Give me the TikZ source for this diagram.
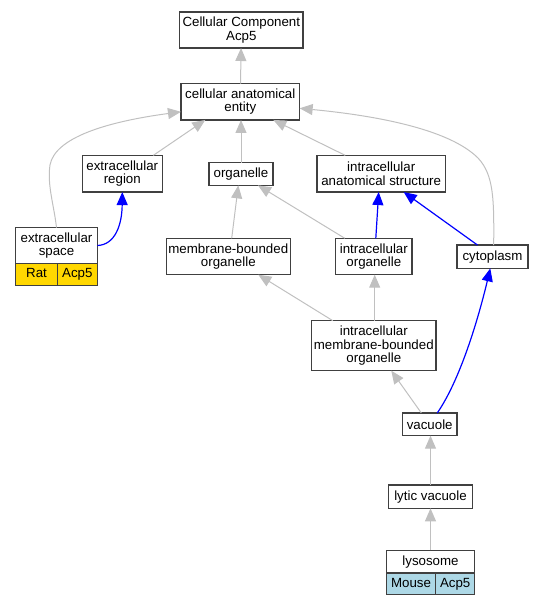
\documentclass[tikz,border=0pt]{standalone}
\usepackage{fontspec}
\setmainfont{Liberation Sans}
\usetikzlibrary{arrows.meta,positioning}

\definecolor{boxgray}{HTML}{404040}
\definecolor{isagray}{HTML}{C0C0C0}
\definecolor{partblue}{HTML}{0000FF}
\definecolor{ratgold}{HTML}{FFD700}
\definecolor{mouseblue}{HTML}{ADD8E6}

\begin{document}
\begin{tikzpicture}[x=1pt,y=-1pt,
    term/.style={draw=boxgray, line width=1.3pt, fill=white, inner sep=0pt,
        outer sep=0pt, align=center, font=\fontsize{13.3}{13.5}\selectfont},
    cell/.style={term, anchor=north west, text height=9.5pt, text depth=2.8pt},
    isa/.style={draw=isagray, line width=1pt, -{Triangle[length=13pt,width=11pt]}},
    partof/.style={draw=partblue, line width=1.2pt, -{Triangle[length=13pt,width=11pt]}}]

    % Fix the page size
    \useasboundingbox (0,0) rectangle (544,605);

    % Draw the terms
    \node[term, minimum width=123.3pt, minimum height=36pt] (cc) at (241.3,30) {Cellular Component\\Acp5};
    \node[term, minimum width=118.7pt, minimum height=36.3pt] (cae) at (240.3,101.8) {cellular anatomical\\entity};
    \node[term, minimum width=80pt, minimum height=36.7pt] (er) at (122.3,173.7) {extracellular\\region};
    \node[term, minimum width=64pt, minimum height=22.7pt] (org) at (241,174) {organelle};
    \node[term, minimum width=128.3pt, minimum height=36.7pt] (ias) at (381.2,173.7) {intracellular\\anatomical structure};
    \node[term, minimum width=81.6pt, minimum height=35.6pt] (es) at (56.5,245.5) {extracellular\\space};
    \node[term, minimum width=124pt, minimum height=36.4pt] (mbo) at (228.3,256.5) {membrane-bounded\\organelle};
    \node[term, minimum width=76.3pt, minimum height=36.4pt] (io) at (373.8,256.5) {intracellular\\organelle};
    \node[term, minimum width=71pt, minimum height=23.3pt] (cyt) at (492.5,256.7) {cytoplasm};
    \node[term, minimum width=124.3pt, minimum height=50pt] (imbo) at (373.8,345.7) {intracellular\\membrane-bounded\\organelle};
    \node[term, minimum width=54.7pt, minimum height=22.7pt] (vac) at (429.7,424.3) {vacuole};
    \node[term, minimum width=83.6pt, minimum height=23.3pt] (lyt) at (430.5,496.7) {lytic vacuole};
    \node[term, minimum width=88.4pt, minimum height=22.7pt] (lyso) at (430.5,561.7) {lysosome};

    % Species and gene cells
    \node[cell, fill=ratgold, minimum width=41.6pt, minimum height=22pt] (esRat) at (es.south west) {Rat};
    \node[cell, fill=ratgold, minimum width=40pt, minimum height=22pt] (esGene) at (esRat.north east) {Acp5};
    \node[cell, fill=mouseblue, minimum width=49.4pt, minimum height=21.3pt] (lysoMouse) at (lyso.south west) {Mouse};
    \node[cell, fill=mouseblue, minimum width=39pt, minimum height=21.3pt] (lysoGene) at (lysoMouse.north east) {Acp5};

    % Draw the is_a edges
    \draw[isa] (cae) -- (cc);
    \draw[isa] (es.north) .. controls (54,205) and (47,185) .. (50,165)
        .. controls (55,138) and (105,122) .. ([yshift=-10pt]cae.west);
    \draw[isa] ([xshift=-9pt]er.north east) -- ([xshift=-35pt]cae.south);
    \draw[isa] (org.north) -- (org.north |- cae.south);
    \draw[isa] ([xshift=-36pt]ias.north) -- ([xshift=33pt]cae.south);
    \draw[isa] ([xshift=1.2pt]cyt.north) .. controls (494,200) and (494,175) .. (478,158)
        .. controls (450,130) and (380,116) .. ([yshift=-6.5pt]cae.east);
    \draw[isa] ([xshift=3.4pt]mbo.north) -- ([xshift=-2.7pt]org.south);
    \draw[isa] ([xshift=-29pt]io.north) -- ([xshift=17pt]org.south);
    \draw[isa] ([xshift=-41pt]imbo.north) -- ([xshift=30pt]mbo.south);
    \draw[isa] ([xshift=0.9pt]imbo.north) -- ([xshift=0.9pt]io.south);
    \draw[isa] ([xshift=-8.4pt]vac.north) -- ([xshift=17.5pt]imbo.south);
    \draw[isa] (lyt.north) -- (vac.south -| lyt.north);
    \draw[isa] (lyso.north) -- (lyt.south);

    % Draw the part_of edges
    \draw[partof] (es.east) .. controls (115,245) and (122,225) .. (er.south);
    \draw[partof] ([xshift=2pt]io.north) -- ([xshift=-2.5pt]ias.south);
    \draw[partof] ([xshift=-15pt]cyt.north) -- ([xshift=22.5pt]ias.south);
    \draw[partof] ([xshift=7.6pt]vac.north) .. controls (460,380) and (478,320) .. ([xshift=-2.2pt]cyt.south);

\end{tikzpicture}
\end{document}
